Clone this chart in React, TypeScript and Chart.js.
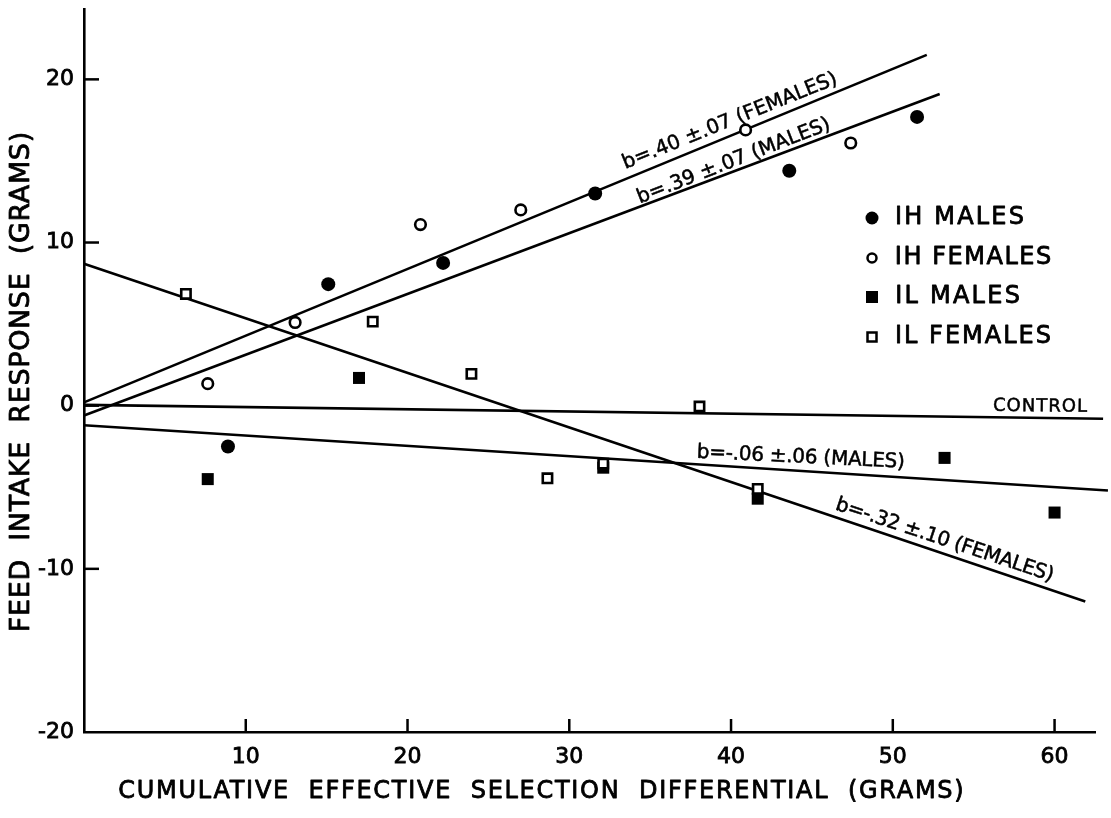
import React, { useEffect, useRef } from 'react';
import { Chart, registerables } from 'chart.js';

Chart.register(...registerables);

// ---- data ----
const ihMalesX = [8.9, 15.1, 22.2, 31.6, 43.6, 51.5];
const ihMalesY = [-2.5, 7.45, 8.75, 13.0, 14.4, 17.7];

const ihFemalesX = [7.65, 13.05, 20.8, 27.0, 40.9, 47.4];
const ihFemalesY = [1.35, 5.1, 11.1, 12.0, 16.9, 16.1];

const ilMalesX = [7.65, 17.0, 32.1, 41.65, 53.2, 60.0];
const ilMalesY = [-4.5, 1.7, -3.8, -5.7, -3.2, -6.55];

const ilFemalesX = [6.3, 17.85, 23.95, 28.65, 32.1, 38.05, 41.65];
const ilFemalesY = [6.85, 5.15, 1.95, -4.45, -3.55, -0.05, -5.1];

// regression / control lines (end points)
const ihFemalesFitX = [0, 52.1];
const ihFemalesFitY = [0.2, 21.5];
const ihMalesFitX = [0, 52.9];
const ihMalesFitY = [-0.6, 19.1];
const ilFemalesFitX = [0, 61.9];
const ilFemalesFitY = [8.7, -12.0];
const ilMalesFitX = [0, 63.3];
const ilMalesFitY = [-1.2, -5.2];
const controlX = [0, 63.0];
const controlY = [0.05, -0.8];

const xTicks = [10, 20, 30, 40, 50, 60];
const yTicks = [-10, 0, 10, 20];

const legendLabels = ['IH MALES', 'IH FEMALES', 'IL MALES', 'IL FEMALES'];

const xTitle = 'CUMULATIVE  EFFECTIVE  SELECTION  DIFFERENTIAL  (GRAMS)';
const yTitle = 'FEED  INTAKE  RESPONSE  (GRAMS)';

const FONT = '"DejaVu Sans", "Liberation Sans", sans-serif';

const zip = (xs: number[], ys: number[]) => xs.map((x, i) => ({ x, y: ys[i] }));

function fitText(
  ctx: CanvasRenderingContext2D,
  text: string,
  cx: number,
  cy: number,
  width: number,
  size: number,
  angle: number,
  stroke = 0.7
) {
  ctx.save();
  ctx.font = `${size}px ${FONT}`;
  (ctx as any).letterSpacing = '0px';
  const w0 = ctx.measureText(text).width;
  const ls = (width - w0) / text.length;
  (ctx as any).letterSpacing = `${ls}px`;
  ctx.translate(cx, cy);
  ctx.rotate((angle * Math.PI) / 180);
  ctx.textAlign = 'center';
  ctx.textBaseline = 'middle';
  ctx.fillStyle = '#000';
  ctx.strokeStyle = '#000';
  ctx.lineWidth = stroke;
  ctx.lineJoin = 'round';
  ctx.fillText(text, ls / 2, 0);
  if (stroke > 0) ctx.strokeText(text, ls / 2, 0);
  ctx.restore();
}

const annotations = [
  { text: 'b=.40 ±.07 (FEMALES)', x: 39.93, y: 17.43, angle: -21.9, width: 230, size: 20 },
  { text: 'b=.39 ±.07 (MALES)', x: 40.17, y: 14.98, angle: -21.3, width: 206, size: 20 },
  { text: 'b=-.06 ±.06 (MALES)', x: 44.31, y: -3.18, angle: 2.75, width: 208, size: 20 },
  { text: 'b=-.32 ±.10 (FEMALES)', x: 53.2, y: -8.26, angle: 18.4, width: 228, size: 20 },
  { text: 'CONTROL', x: 59.1, y: -0.06, angle: 0.6, width: 95, size: 18 },
];

const decorPlugin = {
  id: 'decor',
  afterDraw(chart: any) {
    const ctx: CanvasRenderingContext2D = chart.ctx;
    const xs = chart.scales.x;
    const ys = chart.scales.y;
    const area = chart.chartArea;
    ctx.save();
    ctx.strokeStyle = '#000';
    ctx.lineWidth = 2.5;
    // inward tick marks
    yTicks.forEach((v) => {
      const py = ys.getPixelForValue(v);
      ctx.beginPath();
      ctx.moveTo(area.left, py);
      ctx.lineTo(area.left + 15, py);
      ctx.stroke();
    });
    xTicks.forEach((v) => {
      const px = xs.getPixelForValue(v);
      ctx.beginPath();
      ctx.moveTo(px, area.bottom);
      ctx.lineTo(px, area.bottom - 13);
      ctx.stroke();
    });

    // annotations
    annotations.forEach((a) => {
      fitText(ctx, a.text, xs.getPixelForValue(a.x), ys.getPixelForValue(a.y), a.width, a.size, a.angle, 0.5);
    });

    // legend
    const lx = 872;
    const rows = [218, 258, 297, 337];
    const widths = [131, 158, 127, 158];
    rows.forEach((ry, i) => {
      ctx.save();
      ctx.fillStyle = '#000';
      ctx.strokeStyle = '#000';
      ctx.lineWidth = 2.5;
      if (i === 0) {
        ctx.beginPath();
        ctx.arc(lx, ry, 6.5, 0, Math.PI * 2);
        ctx.fill();
      } else if (i === 1) {
        ctx.beginPath();
        ctx.arc(lx, ry, 4.5, 0, Math.PI * 2);
        ctx.fillStyle = '#fff';
        ctx.fill();
        ctx.stroke();
      } else if (i === 2) {
        ctx.fillRect(lx - 6, ry - 6, 12, 12);
      } else {
        ctx.fillStyle = '#fff';
        ctx.fillRect(lx - 4.5, ry - 4.5, 9, 9);
        ctx.strokeRect(lx - 4.5, ry - 4.5, 9, 9);
      }
      ctx.restore();
      const w = widths[i];
      fitText(ctx, legendLabels[i], 894 + w / 2, ry, w, 24, 0, 0.8);
    });

    // axis titles
    fitText(ctx, xTitle, 541, 792, 847, 24, 0, 0.8);
    fitText(ctx, yTitle, 22, 382, 501, 27, -90, 0.8);
    ctx.restore();
  },
};

export default function App() {
  const ref = useRef<HTMLCanvasElement | null>(null);

  useEffect(() => {
    if (!ref.current) return;
    const lineDs = (xs: number[], ys: number[]) => ({
      type: 'line' as const,
      data: zip(xs, ys),
      borderColor: '#000',
      borderWidth: 2.6,
      pointRadius: 0,
      fill: false,
      tension: 0,
      clip: false as any,
      order: 10,
    });
    const chart = new Chart(ref.current, {
      type: 'scatter',
      data: {
        datasets: [
          lineDs(ihFemalesFitX, ihFemalesFitY),
          lineDs(ihMalesFitX, ihMalesFitY),
          lineDs(ilFemalesFitX, ilFemalesFitY),
          lineDs(ilMalesFitX, ilMalesFitY),
          lineDs(controlX, controlY),
          {
            label: 'IH MALES',
            data: zip(ihMalesX, ihMalesY),
            pointStyle: 'circle',
            pointRadius: 7,
            pointBackgroundColor: '#000',
            pointBorderColor: '#000',
            pointBorderWidth: 0,
            order: 4,
            clip: false as any,
          },
          {
            label: 'IH FEMALES',
            data: zip(ihFemalesX, ihFemalesY),
            pointStyle: 'circle',
            pointRadius: 5.3,
            pointBackgroundColor: '#fff',
            pointBorderColor: '#000',
            pointBorderWidth: 2.6,
            order: 3,
            clip: false as any,
          },
          {
            label: 'IL MALES',
            data: zip(ilMalesX, ilMalesY),
            pointStyle: 'rect',
            pointRadius: 8.5,
            pointBackgroundColor: '#000',
            pointBorderColor: '#000',
            pointBorderWidth: 0,
            order: 2,
            clip: false as any,
          },
          {
            label: 'IL FEMALES',
            data: zip(ilFemalesX, ilFemalesY),
            pointStyle: 'rect',
            pointRadius: 6.6,
            pointBackgroundColor: '#fff',
            pointBorderColor: '#000',
            pointBorderWidth: 2.6,
            order: 1,
            clip: false as any,
          },
        ] as any,
      },
      options: {
        animation: false,
        responsive: true,
        maintainAspectRatio: false,
        events: [],
        layout: { padding: { left: 0, right: 16, top: 8, bottom: 0 } },
        plugins: {
          legend: { display: false },
          tooltip: { enabled: false },
          title: { display: false },
        },
        scales: {
          x: {
            type: 'linear',
            position: 'bottom',
            min: 0,
            max: 62.5,
            grid: { display: false, drawTicks: false },
            border: { display: true, color: '#000', width: 2.6 },
            ticks: {
              stepSize: 10,
              includeBounds: false,
              padding: 12,
              color: '#000',
              textStrokeColor: '#000',
              textStrokeWidth: 0.8,
              font: { family: FONT, size: 22 },
              maxRotation: 0,
              callback: (v: any) => (v === 0 ? '' : String(v)),
            },
            afterFit: (s: any) => {
              s.height = 86;
              s.paddingLeft = 0;
              s.paddingRight = 0;
            },
          },
          y: {
            type: 'linear',
            min: -20,
            max: 24.3,
            grid: { display: false, drawTicks: false },
            border: { display: true, color: '#000', width: 2.6 },
            ticks: {
              stepSize: 10,
              includeBounds: false,
              padding: 10,
              color: '#000',
              textStrokeColor: '#000',
              textStrokeWidth: 0.8,
              font: { family: FONT, size: 22 },
              callback: (v: any) => String(v),
            },
            afterFit: (s: any) => {
              s.width = 84;
              s.paddingTop = 0;
              s.paddingBottom = 0;
            },
          },
        },
      } as any,
      plugins: [decorPlugin],
    });
    return () => chart.destroy();
  }, []);

  return (
    <div style={{ position: 'fixed', left: 0, top: 0, width: 1111, height: 818, background: '#fff' }}>
      <canvas ref={ref} />
    </div>
  );
}
